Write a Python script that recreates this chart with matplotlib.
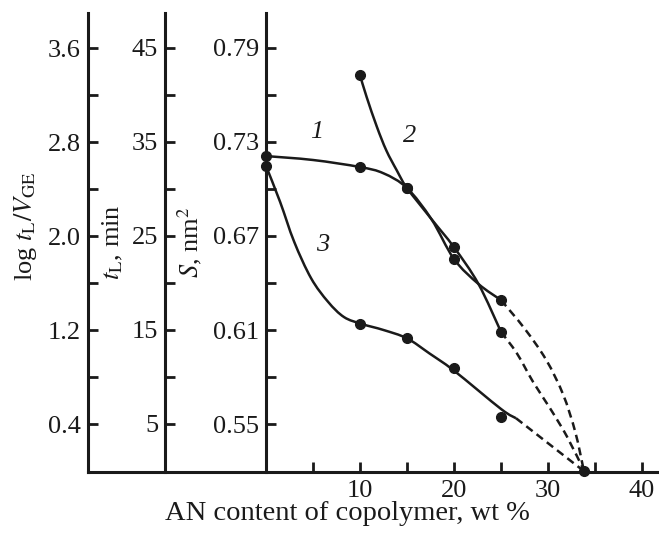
import numpy as np
import matplotlib
matplotlib.use("Agg")
import matplotlib.pyplot as plt
from matplotlib.path import Path
from matplotlib.patches import PathPatch

plt.rcParams['font.family'] = ['Liberation Serif', 'DejaVu Serif']
plt.rcParams['mathtext.fontset'] = 'stix'

INK = '#1a1a1a'
FS = 19

# measured points (AN content, wt %)
x1_pts = [0, 10, 15, 20, 25]
s1_pts = [0.721, 0.714, 0.7006, 0.6553, 0.6291]      # curve 1, S (nm^2)
x2_pts = [10, 15, 20, 25]
t2_pts = [42.1, 30.1, 23.8, 14.8]                    # curve 2, t_L (min)
x3_pts = [0, 10, 15, 20, 25]
g3_pts = [2.596, 1.251, 1.129, 0.879, 0.462]         # curve 3, log t_L/V_GE
x_end, g_end = 33.8, 0.0                             # common intercept

# hand-drawn fit lines
x1_fit = [0, 5, 10, 12.5, 15, 17.6, 20, 22.6, 25]
s1_fit = [0.721, 0.7185, 0.714, 0.710, 0.7006, 0.6807, 0.6553, 0.6394, 0.6291]
x1_ext = [25, 27.5, 29.8, 31.6, 32.9, 33.8]
s1_ext = [0.6291, 0.611, 0.591, 0.569, 0.545, 0.5206]

x2_fit = [10, 10.7, 11.8, 12.8, 13.9, 15, 17.6, 20, 22.6, 25]
t2_fit = [42.1, 39.8, 36.6, 34.1, 32.0, 30.1, 26.8, 23.8, 19.9, 14.8]
x2_ext = [25, 26.7, 28.4, 30.2, 32.0, 33.8]
t2_ext = [14.8, 12.5, 9.5, 6.7, 3.7, 0.1]

x3_fit = [0, 1.5, 3.0, 4.8, 6.6, 8.3, 10.2, 12.5, 15, 17.4, 20, 25, 26.6]
g3_fit = [2.596, 2.29, 1.95, 1.64, 1.44, 1.31, 1.251, 1.20, 1.129, 1.0, 0.854, 0.528, 0.449]
x3_ext = [26.6, 33.8]
g3_ext = [0.449, 0.0]

log_major = [0.4, 1.2, 2.0, 2.8, 3.6]
log_minor = [0.8, 1.6, 2.4, 3.2]
t_major = [5, 15, 25, 35, 45]
t_minor = [10, 20, 30, 40]
s_major = [0.55, 0.61, 0.67, 0.73, 0.79]
s_minor = [0.58, 0.64, 0.70, 0.76]


def smooth_path(xs, ys):
    # Catmull-Rom curve through the given points, as cubic Bezier segments
    pts = np.column_stack([xs, ys]).astype(float)
    verts = [pts[0]]
    codes = [Path.MOVETO]
    n = len(pts)
    for i in range(n - 1):
        p0 = pts[i - 1] if i > 0 else pts[i]
        p1 = pts[i]
        p2 = pts[i + 1]
        p3 = pts[i + 2] if i + 2 < n else pts[i + 1]
        verts += [p1 + (p2 - p0) / 6, p2 - (p3 - p1) / 6, p2]
        codes += [Path.CURVE4] * 3
    return Path(verts, codes)


def draw_curve(ax, xs, ys, dashed=False):
    ls = (0, (3.2, 2.0)) if dashed else '-'
    ax.add_patch(PathPatch(smooth_path(xs, ys), fill=False, lw=1.8,
                           edgecolor=INK, linestyle=ls, capstyle='butt'))


def style_axis(ax, major, minor):
    ax.set_yticks(major)
    ax.set_yticks(minor, minor=True)
    ax.tick_params(axis='y', which='both', direction='in', length=7,
                   width=2, labelsize=FS, pad=5, colors=INK,
                   left=True, right=False, labelleft=True, labelright=False)


fig = plt.figure(figsize=(6.59, 5.35), dpi=100)
ax_g = fig.add_axes([88 / 659, 63 / 535, 571 / 659, 459 / 535])
ax_t = ax_g.twinx()
ax_s = ax_g.twinx()

ax_g.set_xlim(-18.94, 41.81)
ax_g.set_ylim(-0.0085, 3.898)
ax_t.set_ylim(-0.106, 48.72)
ax_s.set_ylim(0.5194, 0.8123)

for ax in (ax_g, ax_t, ax_s):
    ax.spines['top'].set_visible(False)
    ax.spines['right'].set_visible(False)
    ax.spines['left'].set_linewidth(2.2)
    ax.spines['left'].set_color(INK)
for ax in (ax_t, ax_s):
    ax.spines['bottom'].set_visible(False)
    ax.spines['left'].set_visible(True)
    ax.yaxis.set_ticks_position('left')
    ax.yaxis.set_label_position('left')
ax_t.spines['left'].set_position(('axes', 77 / 571))
ax_s.spines['left'].set_position(('data', 0))
ax_g.spines['bottom'].set_linewidth(2.2)
ax_g.spines['bottom'].set_color(INK)

style_axis(ax_g, log_major, log_minor)
style_axis(ax_t, t_major, t_minor)
style_axis(ax_s, s_major, s_minor)
ax_g.set_yticklabels([f"{v:.1f}" for v in log_major])
ax_t.set_yticklabels([f"{v:d}" for v in t_major])
ax_s.set_yticklabels([f"{v:.2f}" for v in s_major])

ax_g.set_xticks([10, 20, 30, 40])
ax_g.set_xticks([5, 15, 25, 35], minor=True)
ax_g.tick_params(axis='x', which='both', direction='in', length=7, width=2,
                 labelsize=FS, pad=6, colors=INK)

# curves
draw_curve(ax_s, x1_fit, s1_fit)
draw_curve(ax_s, x1_ext, s1_ext, dashed=True)
draw_curve(ax_t, x2_fit, t2_fit)
draw_curve(ax_t, x2_ext, t2_ext, dashed=True)
draw_curve(ax_g, x3_fit, g3_fit)
draw_curve(ax_g, x3_ext, g3_ext, dashed=True)

mk = dict(marker='o', ms=7, color=INK, ls='none', clip_on=False, zorder=5)
ax_s.plot(x1_pts, s1_pts, **mk)
ax_t.plot(x2_pts, t2_pts, **mk)
ax_g.plot(x3_pts, g3_pts, **mk)
ax_g.plot([x_end], [g_end], **mk)

# curve numbers
for txt, xx, yy in [('1', 5.4, 0.7366), ('2', 15.3, 0.7338), ('3', 6.06, 0.6643)]:
    ax_s.text(xx, yy, txt, fontsize=FS, style='italic', color=INK,
              ha='center', va='center')

# axis titles
ax_g.set_ylabel(r'log $t_\mathrm{L}/V_\mathrm{GE}$', fontsize=FS, color=INK,
                va='center')
ax_g.yaxis.set_label_coords(-0.110, 0.536)
ax_t.set_ylabel(r'$t_\mathrm{L}$, min', fontsize=FS, color=INK, va='center')
ax_t.yaxis.set_label_coords(0.0438, 0.501)
ax_s.set_ylabel(r'$S$, nm$^2$', fontsize=FS, color=INK, va='center')
ax_s.yaxis.set_label_coords(0.1786, 0.501)
ax_g.set_xlabel('AN content of copolymer, wt %', fontsize=20.5, color=INK,
                va='center')
ax_g.xaxis.set_label_coords(0.455, -0.0915)

fig.savefig('out.png', dpi=100)
